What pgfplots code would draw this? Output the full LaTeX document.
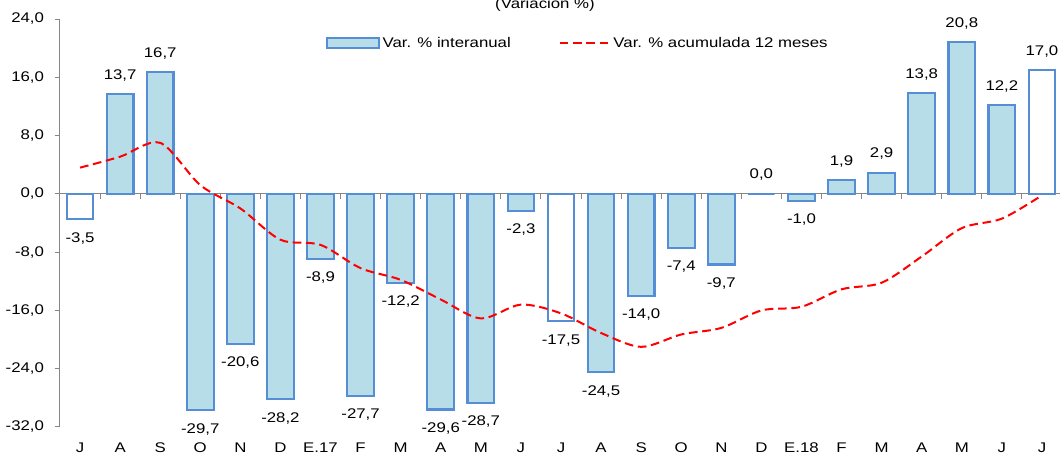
\documentclass[border=0pt]{standalone}
\usepackage{fontspec}
\setmainfont{Liberation Sans}[FakeStretch=1.2]
\usepackage{pgfplots}
\pgfplotsset{compat=1.18}
\definecolor{barfill}{HTML}{B7DEE8}
\definecolor{baredge}{HTML}{558ED5}
\definecolor{axgray}{HTML}{868686}
\begin{document}
\begin{tikzpicture}[font=\fontsize{10.5}{12}\selectfont]
% zero line with category separators
\begin{axis}[at={(0,0)}, anchor=south west,
  width=751.5pt, height=306pt, scale only axis,
  xmin=-0.5, xmax=24.5, ymin=-32, ymax=24,
  axis x line=middle, axis y line=none,
  axis line style={-, axgray, line width=0.75pt},
  xtick={-0.5,0.5,...,24.5}, xticklabels={},
  xtick style={axgray, line width=0.75pt},
  major tick length=4pt, tick align=outside]
\end{axis}
\begin{axis}[at={(0,0)}, anchor=south west,
  width=751.5pt, height=306pt, scale only axis,
  xmin=-0.5, xmax=24.5, ymin=-32, ymax=24,
  enlargelimits=false,
  axis y line*=left, axis x line*=bottom,
  x axis line style={draw=none},
  y axis line style={axgray, line width=0.75pt},
  ytick={-32,-24,...,24},
  ytick style={axgray, line width=0.75pt},
  xtick style={draw=none},
  major tick length=4pt, tick align=outside,
  xtick={0,...,24},
  xticklabels={J,A,S,O,N,D,E.17,F,M,A,M,J,J,A,S,O,N,D,E.18,F,M,A,M,J,J},
  xticklabel style={yshift=-4pt},
  yticklabel style={xshift=-4.5pt},
  /pgf/number format/.cd, fixed, fixed zerofill, precision=1, use comma, assume math mode=true,
  /pgfplots/.cd,
  nodes near coords align={vertical},
  every node near coord/.append style={black, inner ysep=9pt, inner xsep=0pt},
  legend style={draw=none, fill=none, at={(0.517,0.941)}, anchor=center,
    legend columns=2, inner sep=0pt,
    /tikz/every even column/.append style={column sep=34pt}},
]
\addplot[ybar, bar width=20pt, bar shift=0pt, fill=barfill, draw=baredge, line width=1.6pt,
  nodes near coords,
  legend image code/.code={\draw[fill=barfill, draw=baredge, line width=1.6pt] (0pt,-3.5pt) rectangle (39pt,3.5pt);}]
coordinates {(1,13.7) (2,16.7) (3,-29.7) (4,-20.6) (5,-28.2) (6,-8.9) (7,-27.7) (8,-12.2)
 (9,-29.6) (10,-28.7) (11,-2.3) (13,-24.5) (14,-14.0) (15,-7.4) (16,-9.7) (17,0.0)
 (18,-1.0) (19,1.9) (20,2.9) (21,13.8) (22,20.8) (23,12.2)};
\addlegendentry{Var. \% interanual}
\addplot[ybar, bar width=20pt, bar shift=0pt, fill=white, draw=baredge, line width=1.6pt,
  nodes near coords, forget plot]
coordinates {(0,-3.5) (12,-17.5) (24,17.0)};
\addplot[red, line width=1.5pt, dash pattern=on 6.5pt off 3.5pt, smooth, mark=none,
  legend image code/.code={\draw[red, line width=1.5pt, dash pattern=on 6.5pt off 3.5pt] (0pt,0pt) -- (37.5pt,0pt);}]
coordinates {(0,3.6) (1,5.1) (2,7.0) (3,1.2) (4,-2.0) (5,-6.3) (6,-7.0) (7,-10.2) (8,-11.8)
 (9,-14.5) (10,-17.1) (11,-15.2) (12,-16.4) (13,-19.1) (14,-21.0) (15,-19.3) (16,-18.4)
 (17,-16.0) (18,-15.5) (19,-13.1) (20,-12.2) (21,-8.6) (22,-4.7) (23,-3.4) (24,-0.2)};
\addlegendentry{Var. \% acumulada 12 meses}
\end{axis}
\node[anchor=base] at (363.75pt,313.5pt) {(Variación \%)};
\pgfresetboundingbox
\useasboundingbox (-45pt,-21.75pt) rectangle (750pt,320.25pt);
\end{tikzpicture}
\end{document}
